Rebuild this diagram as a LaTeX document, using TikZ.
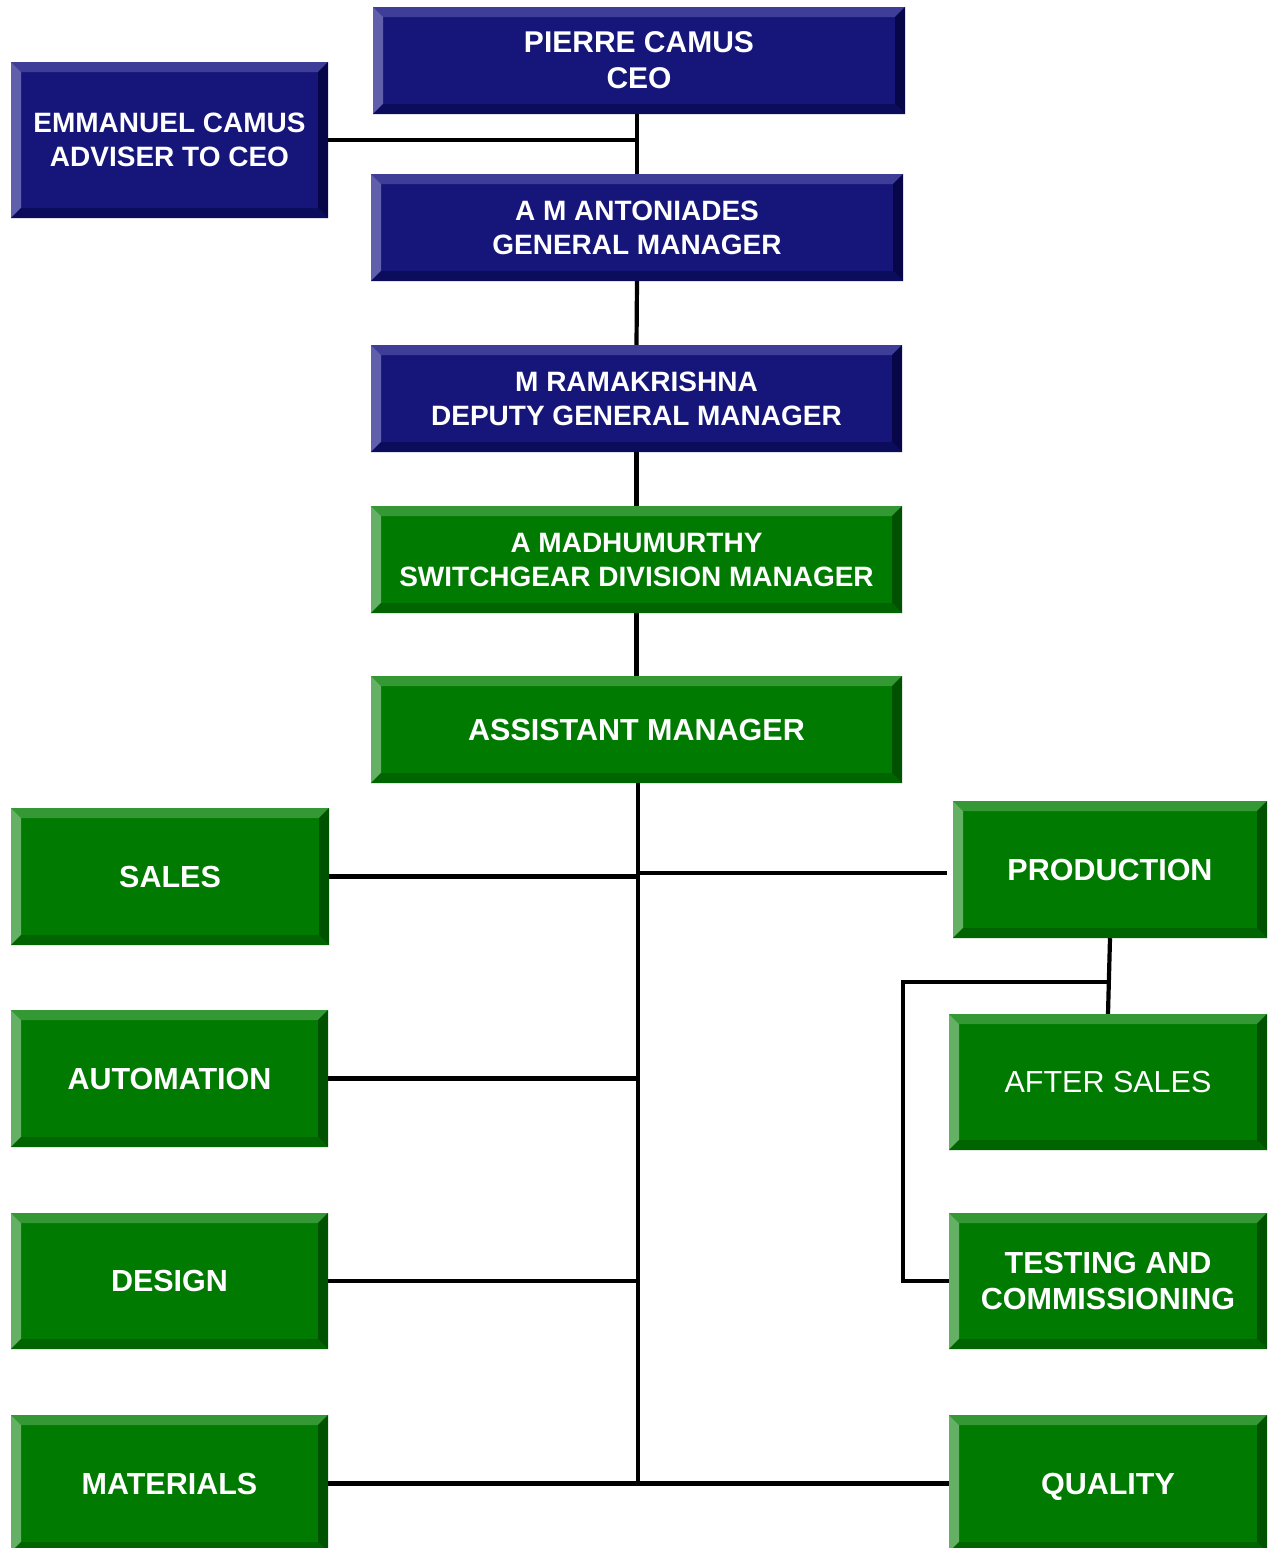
\documentclass[tikz,border=0pt]{standalone}
\usepackage{fontspec}
\setmainfont{Liberation Sans}
\definecolor{nvM}{RGB}{22,22,122}
\definecolor{nvT}{RGB}{62,62,152}
\definecolor{nvL}{RGB}{95,95,172}
\definecolor{nvR}{RGB}{6,6,72}
\definecolor{nvB}{RGB}{12,12,92}
\definecolor{grM}{RGB}{0,122,0}
\definecolor{grT}{RGB}{52,152,52}
\definecolor{grL}{RGB}{100,176,100}
\definecolor{grR}{RGB}{0,82,0}
\definecolor{grB}{RGB}{0,100,0}
\tikzset{
  bev/.style n args={5}{rectangle, fill=#1, text=white, align=center, inner sep=0pt,
    path picture={
      \coordinate (@nw) at (path picture bounding box.north west);
      \coordinate (@ne) at (path picture bounding box.north east);
      \coordinate (@sw) at (path picture bounding box.south west);
      \coordinate (@se) at (path picture bounding box.south east);
      \fill[#2] (@nw) -- (@ne) -- ([shift={(-10pt,-10pt)}]@ne) -- ([shift={(10pt,-10pt)}]@nw) -- cycle;
      \fill[#3] (@nw) -- ([shift={(10pt,-10pt)}]@nw) -- ([shift={(10pt,10pt)}]@sw) -- (@sw) -- cycle;
      \fill[#4] (@ne) -- (@se) -- ([shift={(-10pt,10pt)}]@se) -- ([shift={(-10pt,-10pt)}]@ne) -- cycle;
      \fill[#5] (@sw) -- (@se) -- ([shift={(-10pt,10pt)}]@se) -- ([shift={(10pt,10pt)}]@sw) -- cycle;
    }},
  navybox/.style={bev={nvM}{nvT}{nvL}{nvR}{nvB}, font=\bfseries\fontsize{28}{34}\selectfont},
  greenbox/.style={bev={grM}{grT}{grL}{grR}{grB}, font=\bfseries\fontsize{28}{34}\selectfont},
  deptbox/.style={bev={grM}{grT}{grL}{grR}{grB}, font=\bfseries\fontsize{30.5}{36}\selectfont},
  link/.style={draw=black, line width=4.2pt},
}
\begin{document}
\begin{tikzpicture}[x=1pt,y=-1pt]
\useasboundingbox (0,0) rectangle (1267,1548);
\fill[white] (0,0) rectangle (1267,1548);
% boxes
\node[navybox, minimum width=532pt, minimum height=107pt, font=\bfseries\fontsize{30}{36}\selectfont] (ceo) at (639,60.5) {PIERRE CAMUS\\CEO};
\node[navybox, minimum width=317pt, minimum height=156pt] (adv) at (169.5,140) {EMMANUEL CAMUS\\ADVISER TO CEO};
\node[navybox, minimum width=532pt, minimum height=107pt] (gm) at (637,227.5) {A M ANTONIADES\\GENERAL MANAGER};
\node[navybox, minimum width=531pt, minimum height=107pt] (dgm) at (636.5,398.5) {M RAMAKRISHNA\\DEPUTY GENERAL MANAGER};
\node[greenbox, minimum width=531pt, minimum height=107pt] (div) at (636.5,559.5) {A MADHUMURTHY\\SWITCHGEAR DIVISION MANAGER};
\node[deptbox, minimum width=531pt, minimum height=107pt] (asst) at (636.5,729.5) {ASSISTANT MANAGER};
\node[deptbox, minimum width=318pt, minimum height=137pt] (sales) at (170,876.5) {SALES};
\node[deptbox, minimum width=317pt, minimum height=137pt] (auto) at (169.5,1078.5) {AUTOMATION};
\node[deptbox, minimum width=317pt, minimum height=136pt] (design) at (169.5,1281) {DESIGN};
\node[deptbox, minimum width=317pt, minimum height=137pt] (mat) at (169.5,1483.5) {MATERIALS};
\node[deptbox, minimum width=314pt, minimum height=137pt] (prod) at (1110,869.5) {PRODUCTION};
\node[deptbox, minimum width=318pt, minimum height=136pt, font=\fontsize{30.5}{36}\selectfont] (after) at (1108,1082) {AFTER SALES};
\node[deptbox, minimum width=318pt, minimum height=136pt] (test) at (1108,1281) {TESTING AND\\COMMISSIONING};
\node[deptbox, minimum width=318pt, minimum height=137pt, text depth=0pt] (qual) at (1108,1483.5) {QUALITY};
% connectors
\coordinate (tb) at (638,1483);
\draw[link] (gm.north |- ceo.south) -- (gm.north);
\draw[link] (adv.east) -- (adv.east -| gm.north);
\draw[link] (gm.south) -- (dgm.north);
\draw[link] (dgm.south) -- (div.north);
\draw[link] (div.south) -- (asst.north);
\draw[link] (asst.south -| tb) -- (tb);
\draw[link] (sales.east) -- (sales.east -| tb);
\draw[link] (tb |- 0,873) -- (947,873);
\draw[link] (auto.east) -- (auto.east -| tb);
\draw[link] (design.east) -- (design.east -| tb);
\draw[link] (mat.east) -- (qual.west);
\draw[link] (prod.south) -- (after.north);
\coordinate (br) at (1109,982);
\draw[link] (br) -- (903,982) -- (903,1281) -- (test.west);
\end{tikzpicture}
\end{document}
